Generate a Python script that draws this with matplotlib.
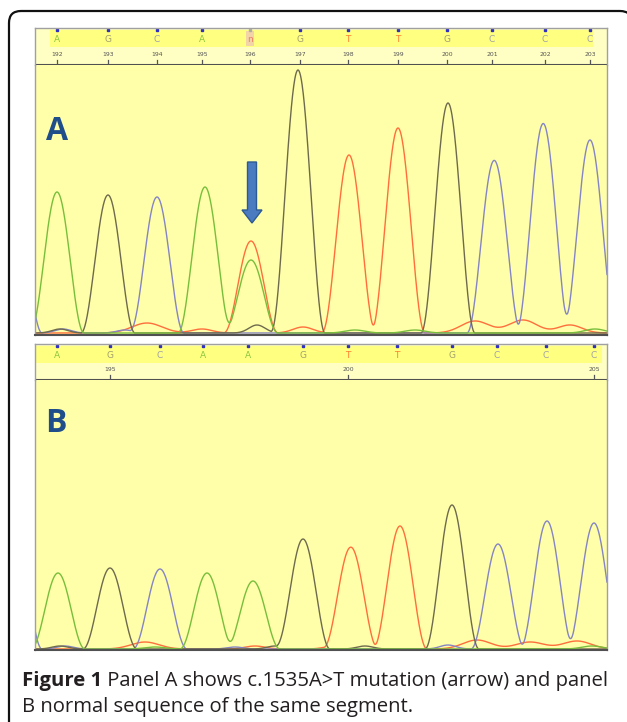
import matplotlib
matplotlib.use("Agg")
import matplotlib.pyplot as plt
from matplotlib.patches import FancyArrow, Rectangle, PathPatch
from matplotlib.path import Path
import numpy as np

W, H, DPI = 627, 722, 100

# ---- panel A: mutated sequence ----
a_bases = list("AGCANGTTGCCC")
a_base_pos = [22, 73, 122, 167, 215, 265, 313, 363, 412, 457, 510, 555]
a_numbers = list(range(192, 204))
a_number_pos = a_base_pos

a_peak_ch = ["C", "A", "G", "C", "A", "T", "A", "G", "T", "T", "G", "C", "C", "C"]
a_peak_pos = [-20, 22, 73, 122, 170, 216, 216, 263, 314, 363, 413, 459, 508, 555]
a_peak_h = [130, 141, 138, 136, 146, 92, 73, 263, 178, 205, 230, 171, 207, 193]

a_noise_ch = ["T", "T", "T", "T", "T", "T", "G", "G", "C", "C", "C", "C", "A", "A", "A"]
a_noise_pos = [112, 167, 268, 440, 488, 535, 222, 25, 28, 90, 470, 520, 320, 380, 560]
a_noise_h = [10, 4, 6, 12, 13, 8, 8, 4, 4, 3, 4, 5, 3, 3, 4]
a_noise_w = [15, 10, 10, 14, 14, 12, 8, 8, 8, 8, 8, 10, 10, 10, 10]

# ---- panel B: normal sequence ----
b_bases = list("AGCAAGTTGCCC")
b_base_pos = [22, 75, 125, 168, 213, 268, 313, 362, 417, 462, 511, 559]
b_numbers = [195, 200, 205]
b_number_pos = [75, 313, 559]

b_peak_ch = ["C", "A", "G", "C", "A", "A", "G", "T", "T", "G", "C", "C", "C"]
b_peak_pos = [-20, 23, 75, 125, 172, 218, 268, 316, 365, 417, 463, 512, 559]
b_peak_h = [120, 76, 81, 80, 76, 68, 110, 101, 123, 144, 105, 128, 126]

b_noise_ch = ["T", "T", "T", "T", "T", "T", "G", "G", "G", "C", "C", "C", "A", "A"]
b_noise_pos = [110, 220, 442, 495, 542, 300, 25, 240, 330, 30, 413, 200, 557, 120]
b_noise_h = [7, 3, 9, 7, 8, 3, 3, 3, 3, 3, 4, 2, 3, 2]
b_noise_w = [14, 10, 14, 14, 14, 10, 8, 8, 8, 8, 8, 8, 10, 10]

trace_col = {"A": "#78be3c", "G": "#6e6a4e", "C": "#8585c4", "T": "#ff6e3c"}
letter_col = {"A": "#8dc63f", "G": "#a09f6e", "C": "#a0a0aa", "T": "#ff7f30", "N": "#f08060"}
HALF = 27   # half base width of a peak (scan units)
XMAX = 572


def peak(x, p, h, half):
    d = np.clip((x - p) / half, -1, 1)
    return h * np.cos(np.pi * d / 2) ** 2


def traces(ax, ch, pos, h, nch, npos, nh, nw):
    x = np.linspace(0, XMAX, 1500)
    for c in ["T", "C", "G", "A"]:
        y = np.zeros_like(x)
        for cc, p, hh in zip(ch, pos, h):
            if cc == c:
                y += peak(x, p, hh, HALF)
        for cc, p, hh, w in zip(nch, npos, nh, nw):
            if cc == c:
                y += hh * np.exp(-(x - p) ** 2 / (2 * w ** 2))
        ax.plot(x, y, color=trace_col[c], lw=1.0, solid_capstyle="round")


def chrom_axes(top, bottom, base_px):
    ax = fig.add_axes([35 / W, 1 - bottom / H, XMAX / W, (bottom - top) / H])
    ax.set_xlim(0, XMAX)
    ax.set_ylim(base_px - bottom, base_px - top)
    ax.set_facecolor("#ffffaa")
    ax.set_xticks([])
    ax.set_yticks([])
    for s in ["left", "right"]:
        ax.spines[s].set_color("#a0a0a0")
        ax.spines[s].set_linewidth(1.0)
    ax.spines["top"].set_visible(False)
    ax.spines["bottom"].set_color("#505050")
    ax.spines["bottom"].set_linewidth(1.5)
    return ax


def header_axes(top, bottom, band, bases, bpos, nums, npos):
    hh = bottom - top
    ax = fig.add_axes([35 / W, 1 - bottom / H, XMAX / W, hh / H])
    ax.set_xlim(0, XMAX)
    ax.set_ylim(hh, 0)
    ax.set_facecolor("#ffffc4")
    ax.set_xticks([])
    ax.set_yticks([])
    for s in ["left", "right", "top"]:
        ax.spines[s].set_color("#a0a0a0")
        ax.spines[s].set_linewidth(1.0)
    ax.spines["bottom"].set_visible(False)
    ax.add_patch(Rectangle((band[0], 1.5), band[1] - band[0], 17,
                           color="#ffff80", lw=0))
    ax.axhline(hh - 0.5, color="#505050", lw=1.5)
    for b, p in zip(bases, bpos):
        if b == "N":
            ax.add_patch(Rectangle((p - 4, 2.5), 8, 15, color="#f3d3a8", lw=0))
            ax.text(p, 12, "n", color=letter_col[b], fontsize=6.5, ha="center",
                    va="center", family="DejaVu Sans")
            ax.plot(p, 1.5, "s", ms=1.6, color="#b0b0a0")
        else:
            ax.text(p, 12, b, color=letter_col[b], fontsize=6.5, ha="center",
                    va="center", family="DejaVu Sans")
            ax.plot(p, 1.5, "s", ms=1.8, color="#3030c0")
    for n, p in zip(nums, npos):
        ax.text(p, hh - 9, str(n), color="#555555", fontsize=4.4, ha="center",
                va="baseline", family="DejaVu Sans")
        ax.plot([p, p], [hh - 5, hh], color="#555555", lw=0.9)
    return ax


fig = plt.figure(figsize=(W / DPI, H / DPI), dpi=DPI)

# outer rounded frame, in pixels; right and bottom edges run off the picture
L, T, R, r = 9, H - 11, 632, 12
verts = [(L, -30), (L, T - r), (L, T), (L + r, T), (R - r, T), (R, T), (R, T - r), (R, -30)]
codes = [Path.MOVETO, Path.LINETO, Path.CURVE3, Path.CURVE3,
         Path.LINETO, Path.CURVE3, Path.CURVE3, Path.LINETO]
fig.patches.append(PathPatch(Path(verts, codes), transform=None, fc="none",
                             ec="#111111", lw=1.6, clip_on=False))

# panel A
axA = chrom_axes(65, 335, 333)
traces(axA, a_peak_ch, a_peak_pos, a_peak_h, a_noise_ch, a_noise_pos, a_noise_h, a_noise_w)
header_axes(28, 65, (15, 558), a_bases, a_base_pos, a_numbers, a_number_pos)
axA.add_patch(FancyArrow(217, 171, 0, -61, width=9, head_width=20, head_length=13,
                         length_includes_head=True, fc="#4a7bc0", ec="#2e5a94", lw=1.0))

# panel B
axB = chrom_axes(380, 650, 649)
traces(axB, b_peak_ch, b_peak_pos, b_peak_h, b_noise_ch, b_noise_pos, b_noise_h, b_noise_w)
header_axes(344, 380, (0, 567), b_bases, b_base_pos, b_numbers, b_number_pos)

# panel letters
fig.text(57 / W, 1 - 140 / H, "A", fontsize=23, fontweight="bold", color="#1f4e8a",
         ha="center", va="baseline", family="Open Sans")
fig.text(56 / W, 1 - 432 / H, "B", fontsize=23, fontweight="bold", color="#1f4e8a",
         ha="center", va="baseline", family="Open Sans")

# caption
FS = 14.6
t1 = fig.text(22 / W, 1 - 686 / H, "Figure 1", fontsize=FS, fontweight="bold",
              color="#231f20", family="Open Sans", va="baseline")
fig.canvas.draw()
bb = t1.get_window_extent(fig.canvas.get_renderer())
fig.text(bb.x1 / W, 1 - 686 / H, " Panel A shows c.1535A>T mutation (arrow) and panel",
         fontsize=FS, color="#231f20", family="Open Sans", va="baseline")
fig.text(22 / W, 1 - 712 / H, "B normal sequence of the same segment.",
         fontsize=FS, color="#231f20", family="Open Sans", va="baseline")

fig.savefig("out.png", dpi=DPI)
